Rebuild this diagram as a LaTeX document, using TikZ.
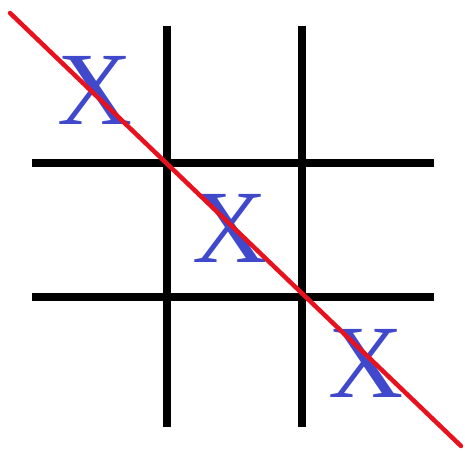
\documentclass[tikz,border=0pt]{standalone}
\usepackage{fontspec}
\setmainfont{Liberation Serif}
\definecolor{xblue}{HTML}{4048CC}
\definecolor{winred}{HTML}{E8121E}
\begin{document}
\begin{tikzpicture}[x=1pt,y=-1pt,
  gridline/.style={line width=8pt,black},
  xmark/.style={inner sep=0pt,text=xblue,font=\fontsize{104}{104}\selectfont},
  winline/.style={line width=4.5pt,winred,line cap=round}]
\useasboundingbox[fill=white] (0,0) rectangle (465,450);
\coordinate (v1t) at (167,26); \coordinate (v1b) at (167,427);
\coordinate (v2t) at (302,26); \coordinate (v2b) at (302,427);
\coordinate (h1l) at (32,163); \coordinate (h1r) at (434,163);
\coordinate (h2l) at (32,297); \coordinate (h2r) at (434,297);
\draw[gridline] (v1t) -- (v1b);
\draw[gridline] (v2t) -- (v2b);
\draw[gridline] (h1l) -- (h1r);
\draw[gridline] (h2l) -- (h2r);
\node[xmark] (x1) at (95,90) {X};
\node[xmark] (x2) at (230,228) {X};
\node[xmark] (x3) at (366,363) {X};
\coordinate (rs) at (10,13);
\coordinate (re) at (461,446);
\draw[winline] (rs) -- (re);
\end{tikzpicture}
\end{document}
